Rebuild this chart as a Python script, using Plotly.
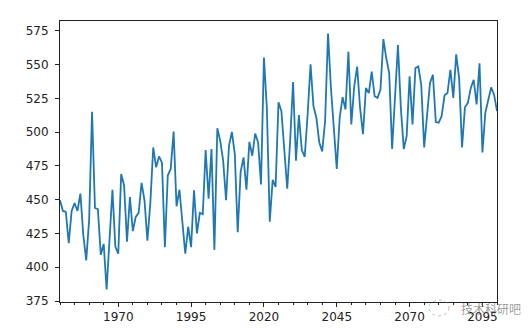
import plotly.graph_objects as go

years = list(range(1950, 2101))

values = [
    449.6, 441.7, 441.0, 417.8, 441.7, 447.6, 441.7, 454.5, 423.9, 405.1,
    434.9, 515.1, 443.9, 443.0, 409.2, 417.3, 383.6, 420.2, 457.4, 415.3,
    410.0, 469.1, 460.6, 419.0, 452.0, 426.8, 437.3, 440.3, 462.5, 449.6,
    419.7, 447.1, 488.7, 474.0, 482.1, 477.4, 414.9, 467.9, 472.8, 500.4,
    445.2, 457.4, 434.9, 410.0, 430.0, 414.9, 456.9, 425.1, 440.3, 439.3,
    486.7, 450.8, 487.5, 412.9, 502.9, 493.6, 478.9, 449.6, 489.9, 500.2,
    483.8, 425.9, 470.4, 481.4, 457.4, 492.8, 482.6, 499.0, 492.4, 461.3,
    555.2, 518.0, 433.7, 464.7, 459.4, 522.2, 515.6, 483.8, 458.1, 493.6,
    537.1, 478.9, 512.7, 486.7, 481.8, 513.1, 550.3, 519.3, 510.7, 492.4,
    485.8, 508.3, 573.0, 532.7, 498.5, 472.8, 510.7, 525.9, 516.8, 559.6,
    505.8, 534.0, 548.6, 518.0, 498.5, 532.7, 529.0, 544.9, 526.6, 525.4,
    531.5, 568.9, 554.7, 543.7, 487.5, 530.3, 564.5, 518.0, 487.5, 497.3,
    541.3, 505.8, 547.4, 548.6, 535.1, 488.7, 510.7, 536.4, 542.5, 507.5,
    507.0, 511.9, 527.3, 529.0, 546.1, 525.4, 557.6, 540.0, 488.7, 518.5,
    521.7, 532.7, 538.8, 520.5, 551.0, 485.0, 514.4, 524.1, 533.2, 527.8,
    515.6,
]

x_tick_values = [1970, 1995, 2020, 2045, 2070, 2095]
y_tick_values = [375, 400, 425, 450, 475, 500, 525, 550, 575]
watermark_text = "技术科研吧"

fig = go.Figure()
fig.add_trace(go.Scatter(
    x=years, y=values, mode="lines",
    line=dict(color="#1f77b4", width=1.8),
    showlegend=False, hoverinfo="skip",
))

axis_common = dict(
    showgrid=False, zeroline=False,
    showline=True, linecolor="#222222", linewidth=1, mirror=True,
    ticks="outside", ticklen=4, tickwidth=1, tickcolor="#222222",
    tickfont=dict(family="DejaVu Sans", size=12, color="#222222"),
)

fig.update_xaxes(
    **axis_common,
    range=[1950, 2100],
    tickmode="array", tickvals=x_tick_values,
    ticktext=[str(v) for v in x_tick_values],
    ticklabelstandoff=0,
    minor=dict(ticks="outside", ticklen=2, tickwidth=1, tickcolor="#222222",
               dtick=5, tick0=1950),
)
fig.update_yaxes(
    **axis_common,
    range=[374.3, 582.3],
    tickmode="array", tickvals=y_tick_values,
    ticktext=[str(v) for v in y_tick_values],
    ticklabelstandoff=4,
)

# watermark (semi-transparent text + faint logo circle)
fig.add_annotation(
    x=483, y=303, xref="paper", yref="paper",
    xanchor="center", yanchor="middle",
    text=watermark_text, showarrow=False,
    font=dict(family="Noto Sans CJK SC", size=12, color="rgba(110,110,110,0.7)"),
)
fig.update_annotations(xref="paper", yref="paper",
                       x=(483 - 52) / 437, y=(296 - 303) / 284)
fig.add_shape(
    type="circle", xref="paper", yref="paper",
    x0=(421 - 52) / 437, x1=(441 - 52) / 437,
    y0=(296 - 310) / 284, y1=(296 - 294) / 284,
    line=dict(color="rgba(150,150,150,0.6)", width=1, dash="dot"),
)

fig.update_layout(
    width=530, height=328,
    margin=dict(l=52, r=41, t=12, b=32),
    paper_bgcolor="white", plot_bgcolor="white",
)

fig.write_html("out.html")
